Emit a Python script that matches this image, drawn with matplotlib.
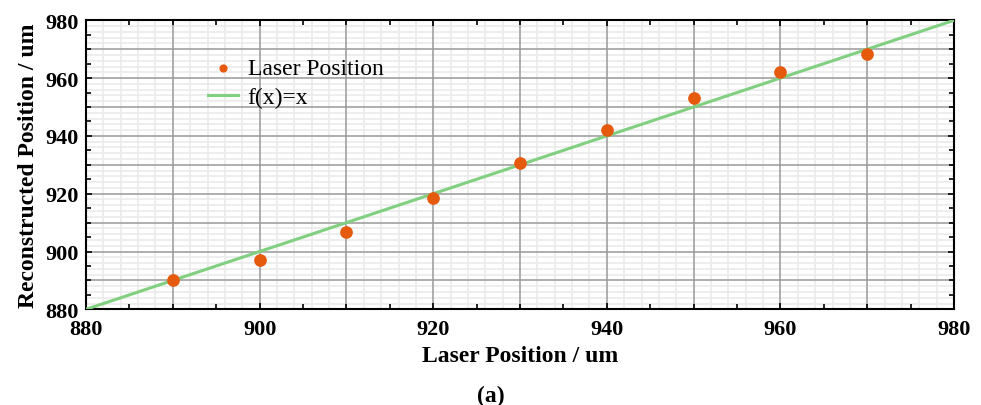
import numpy as np
import matplotlib.pyplot as plt
from matplotlib.ticker import MultipleLocator

plt.rcParams['font.family'] = ['Liberation Serif', 'DejaVu Serif']

# measured laser positions (um) and the reconstructed ones
laser_x = [890, 900, 910, 920, 930, 940, 950, 960, 970]
recon_y = [890.3, 897.1, 906.8, 918.5, 930.6, 942.2, 953.0, 962.1, 968.3]
ideal_x = [880, 980]

fig = plt.figure(figsize=(9.81, 4.06), dpi=100)
ax = fig.add_axes([0.0877, 0.2357, 0.8848, 0.7118])

ax.set_xlim(880, 980)
ax.set_ylim(880, 980)

# grid: major every 10, light minor every 2
for v in np.arange(880, 981, 2):
    if v % 10 == 0:
        continue
    ax.axvline(v, color='#ebebeb', lw=1.2, zorder=0)
    ax.axhline(v, color='#ebebeb', lw=1.2, zorder=0)
for v in np.arange(890, 980, 10):
    ax.axvline(v, color='#999999', lw=1.1, zorder=1)
    ax.axhline(v, color='#999999', lw=1.1, zorder=1)

ax.plot(ideal_x, ideal_x, color='#80d080', lw=2.2, label='f(x)=x', zorder=3)
ax.scatter(laser_x, recon_y, s=66, color='#e65a0e', label='Laser Position', zorder=4)

ax.xaxis.set_major_locator(MultipleLocator(20))
ax.xaxis.set_minor_locator(MultipleLocator(5))
ax.yaxis.set_major_locator(MultipleLocator(20))
ax.yaxis.set_minor_locator(MultipleLocator(5))
ax.tick_params(which='both', direction='in', top=True, right=True, width=1.2)
ax.tick_params(which='major', length=4, labelsize=16)
ax.tick_params(which='minor', length=3.5)
ax.tick_params(axis='x', which='major', pad=7)
ax.tick_params(axis='y', which='major', pad=5)
for lab in ax.get_xticklabels() + ax.get_yticklabels():
    lab.set_fontweight('bold')
for s in ax.spines.values():
    s.set_linewidth(1.5)

ax.set_xlabel('Laser Position / um', fontsize=17, fontweight='bold', labelpad=4)
ax.set_ylabel('Reconstructed Position / um', fontsize=17, fontweight='bold', labelpad=5)
fig.text(0.5, 0.009, '(a)', ha='center', fontsize=17, fontweight='bold')

h, l = ax.get_legend_handles_labels()
ax.legend(h[::-1], l[::-1], loc='upper left', bbox_to_anchor=(0.1406, 0.87),
          frameon=False, fontsize=17, handlelength=1.25, handletextpad=0.42,
          borderaxespad=0, borderpad=0, labelspacing=0.31, markerscale=0.6)

fig.savefig('out.png', dpi=100)
